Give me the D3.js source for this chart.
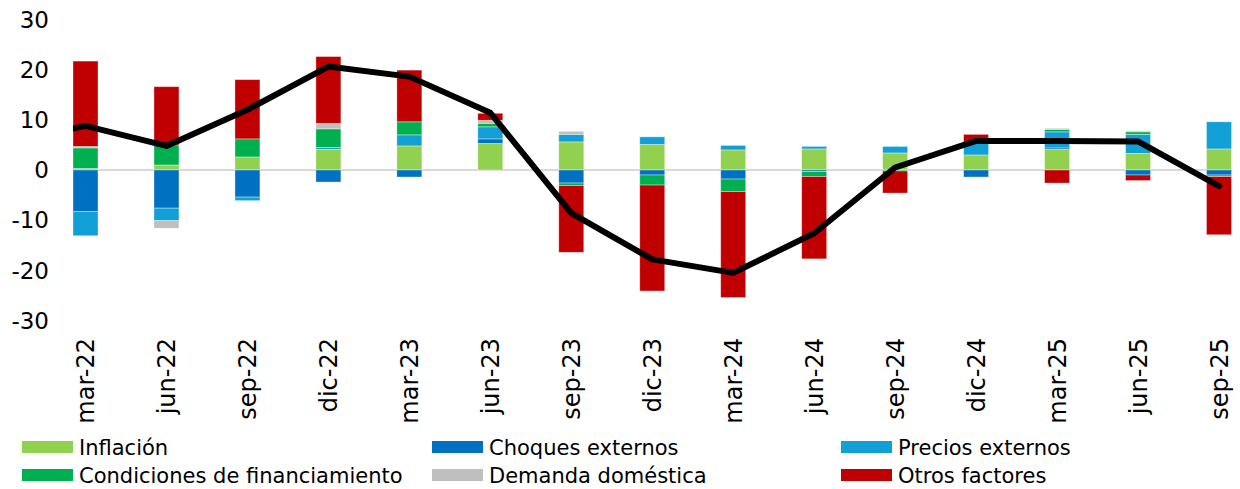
<!DOCTYPE html>
<html>
<head>
<meta charset="utf-8">
<script src="https://cdn.jsdelivr.net/npm/d3@7"></script>
<style>
  body { margin: 0; background: #fff; }
  svg text { font-family: "DejaVu Sans", Verdana, sans-serif; fill: #000; }
</style>
</head>
<body>
<svg id="chart" width="1240" height="489"></svg>
<script>
// trimestres
const categories = ["mar-22", "jun-22", "sep-22", "dic-22", "mar-23", "jun-23", "sep-23",
  "dic-23", "mar-24", "jun-24", "sep-24", "dic-24", "mar-25", "jun-25", "sep-25"];

// contribuciones (pp)
const inflacion    = [0.3, 1.0, 2.6, 4.1, 4.8, 5.3, 5.6, 5.1, 4.0, 4.2, 3.4, 3.0, 4.1, 3.3, 4.2];
const choques      = [-8.3, -7.6, -5.4, -2.4, -1.4, 0.9, -2.6, -1.0, -1.8, -0.3, 0, -1.4, 0.3, -1.0, -1.0];
const precios      = [-4.8, -2.5, -0.7, 0.4, 2.2, 2.4, 1.5, 1.5, 0.9, 0.5, 1.3, 2.3, 3.2, 3.8, 5.4];
const condiciones  = [4.1, 4.0, 3.6, 3.7, 2.6, 0.7, -0.5, -2.0, -2.5, -1.0, -0.2, 0, 0.5, 0.5, -0.3];
const demanda      = [0.3, -1.5, 0, 1.1, 0, 0.6, 0.6, 0, 0, 0, 0, 0, 0.2, 0.2, 0];
const otros        = [17.0, 11.6, 11.8, 13.3, 10.3, 1.4, -13.3, -21.1, -21.1, -16.4, -4.4, 1.8, -2.6, -1.1, -11.6];

// total (linea negra); el primer valor es el trimestre previo (dic-21), recortado
const totalPrev = 5.3;
const total = [8.8, 4.8, 12.0, 20.6, 18.6, 11.4, -8.6, -17.8, -20.5, -12.6, 0.5, 5.8, 5.8, 5.7, -3.2];

const yTicks = [-30, -20, -10, 0, 10, 20, 30];

const seriesNames = ["Inflación", "Choques externos", "Precios externos",
  "Condiciones de financiamiento", "Demanda doméstica", "Otros factores"];
const seriesValues = [inflacion, choques, precios, condiciones, demanda, otros];
const colors = ["#92D050", "#0070C0", "#119FD6", "#00B050", "#BFBFBF", "#C00000"];

const svg = d3.select("#chart");

const x = d3.scalePoint().domain(categories).range([85.5, 1219]);
const barW = 25;
const y = d3.scaleLinear().domain([-30, 30]).range([320.6, 19.4]);

// tabla para d3.stack
const rows = categories.map(function(c, i){
  const r = {cat: c};
  seriesNames.forEach(function(s, j){ r[s] = seriesValues[j][i]; });
  return r;
});

const stack = d3.stack().keys(seriesNames).offset(d3.stackOffsetDiverging);
const stacked = stack(rows);

// eje y (solo etiquetas)
svg.append("g")
  .selectAll("text")
  .data(yTicks)
  .enter()
  .append("text")
  .attr("x", 49)
  .attr("y", function(d){ return y(d); })
  .attr("dy", "0.36em")
  .attr("text-anchor", "end")
  .attr("font-size", 23)
  .text(function(d){ return d; });

const left = x(categories[0]) - barW / 2;
const right = x(categories[categories.length - 1]) + barW / 2;

// linea del cero
svg.append("line")
  .attr("x1", left).attr("x2", right)
  .attr("y1", y(0)).attr("y2", y(0))
  .attr("stroke", "#d9d9d9")
  .attr("stroke-width", 2);

// barras apiladas
svg.append("g")
  .selectAll("g")
  .data(stacked)
  .enter()
  .append("g")
  .attr("fill", function(d, i){ return colors[i]; })
  .selectAll("rect")
  .data(function(d){ return d; })
  .enter()
  .append("rect")
  .attr("x", function(d){ return x(d.data.cat) - barW / 2; })
  .attr("width", barW)
  .attr("y", function(d){ return y(Math.max(d[0], d[1])); })
  .attr("height", function(d){ return Math.abs(y(d[0]) - y(d[1])); })
  .attr("stroke", "#fff")
  .attr("stroke-opacity", 0.45)
  .attr("stroke-width", 0.8);

// linea total
svg.append("clipPath").attr("id", "clip")
  .append("rect")
  .attr("x", left).attr("y", 0)
  .attr("width", right - left + 10).attr("height", 489);

const linePts = [[x(categories[0]) - x.step(), totalPrev]]
  .concat(categories.map(function(c, i){ return [x(c), total[i]]; }));

const line = d3.line()
  .x(function(d){ return d[0]; })
  .y(function(d){ return y(d[1]); });

svg.append("path")
  .datum(linePts)
  .attr("clip-path", "url(#clip)")
  .attr("d", line)
  .attr("fill", "none")
  .attr("stroke", "#000")
  .attr("stroke-width", 6)
  .attr("stroke-linejoin", "round")
  .attr("stroke-linecap", "round");

// etiquetas eje x
svg.append("g")
  .selectAll("text")
  .data(categories)
  .enter()
  .append("text")
  .attr("transform", function(d){ return "translate(" + x(d) + ",338) rotate(-90)"; })
  .attr("dy", "0.36em")
  .attr("text-anchor", "end")
  .attr("font-size", 24)
  .text(function(d){ return d; });

// leyenda
const legX = [22, 432, 841];
const legY = [447, 475];
const leg = svg.append("g")
  .selectAll("g")
  .data(seriesNames)
  .enter()
  .append("g")
  .attr("transform", function(d, i){
    return "translate(" + legX[i % 3] + "," + legY[Math.floor(i / 3)] + ")";
  });

leg.append("rect")
  .attr("x", 0).attr("y", -6)
  .attr("width", 51).attr("height", 12)
  .attr("fill", function(d, i){ return colors[i]; });

leg.append("text")
  .attr("x", 57)
  .attr("dy", "0.36em")
  .attr("font-size", 21)
  .text(function(d){ return d; });
</script>
</body>
</html>
